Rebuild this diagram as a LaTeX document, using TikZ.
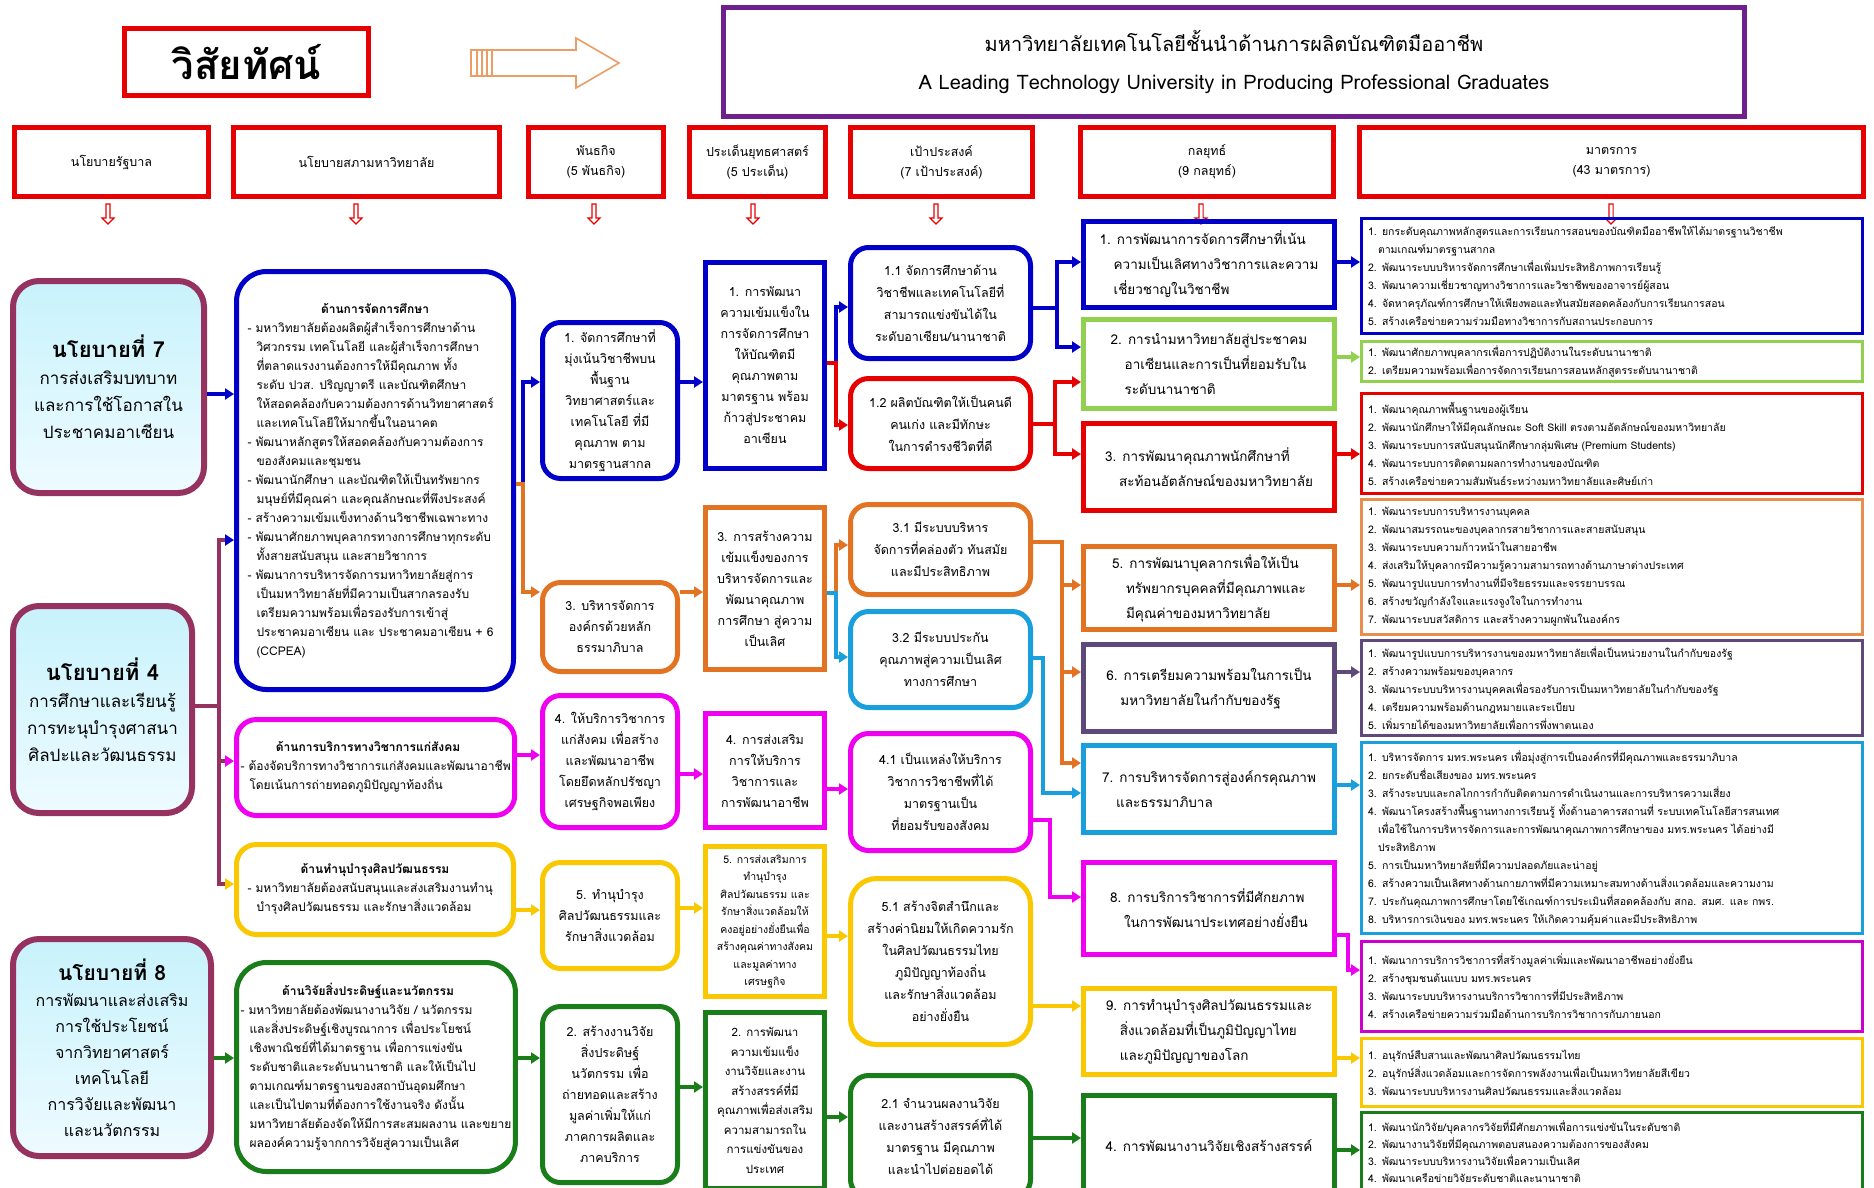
\documentclass[tikz,border=0pt]{standalone}
\usepackage{fontspec}
\setmainfont[Script=Thai]{Loma}
\usetikzlibrary{arrows.meta,shapes.arrows}
\definecolor{cBlue}{RGB}{0,0,200}
\definecolor{cRed}{RGB}{230,0,0}
\definecolor{cOrange}{RGB}{226,115,35}
\definecolor{cMag}{RGB}{240,0,240}
\definecolor{cYel}{RGB}{250,200,0}
\definecolor{cGreen}{RGB}{25,125,25}
\definecolor{cCyan}{RGB}{25,160,220}
\definecolor{cLGreen}{RGB}{146,208,80}
\definecolor{cPurp}{RGB}{95,73,122}
\definecolor{cVis}{RGB}{112,32,140}
\definecolor{cMaroon}{RGB}{150,50,95}
\definecolor{cPolTop}{RGB}{200,242,252}
\definecolor{cPolBot}{RGB}{238,251,255}
\newcommand\mybox[7]{\node[#6,minimum width=#4pt,minimum height=#5pt] (#1) at (#2,#3) {#7};}
\newcommand\hcon[4]{\coordinate (tmpy) at (0,#3); \draw[#4] (#1.east |- tmpy) -- (#2.west |- tmpy);}
\newcommand\econ[6]{\coordinate (tmpa) at (#5,#3); \coordinate (tmpb) at (#5,#4); \draw[#6] (#1.east |- tmpa) -- (tmpa) -- (tmpb) -- (#2.west |- tmpb);}
\tikzset{
 bxbase/.style={rectangle, anchor=north west, align=center, inner sep=4pt, text=black},
 hdr/.style={bxbase, draw=cRed, line width=5pt, font=\fontsize{12.5}{20}\selectfont},
 pol/.style={bxbase, draw=cMaroon, line width=6pt, rounded corners=26pt, top color=cPolTop, bottom color=cPolBot, font=\fontsize{17}{27}\selectfont},
 uni/.style={bxbase, line width=5pt, rounded corners=30pt, align=left, font=\fontsize{12}{19}\selectfont},
 mis/.style={bxbase, line width=5pt, rounded corners=18pt, font=\fontsize{12.5}{21}\selectfont},
 iss/.style={bxbase, line width=5pt, font=\fontsize{12.5}{21}\selectfont},
 goa/.style={bxbase, line width=5pt, rounded corners=18pt, font=\fontsize{12.5}{22}\selectfont},
 stra/.style={bxbase, line width=5pt, align=left, font=\fontsize{13.5}{25}\selectfont},
 mea/.style={bxbase, line width=3pt, align=left, text width=488pt, inner sep=6pt, font=\fontsize{10.5}{18}\selectfont},
 arr/.style={line width=3.5pt, -{Triangle[length=9pt,width=11pt]}},
 darr/.style={single arrow, shape border rotate=270, draw=cRed, fill=white, line width=1.2pt, minimum height=20pt, minimum width=12pt, single arrow head extend=3pt, inner sep=1pt}
}
\begin{document}
\begin{tikzpicture}[x=1pt,y=-1pt]
\useasboundingbox[fill=white] (0,0) rectangle (1874,1187);
% --- top ---
\mybox{vt}{122}{26}{244}{67}{hdr, font=\fontsize{40}{44}\selectfont\bfseries}{วิสัยทัศน์}
\draw[cOrange!70, line width=1.6pt, line join=miter] (471,50) -- (576,50) -- (576,38) -- (619,63) -- (576,88) -- (576,76) -- (471,76) -- cycle;
\draw[cOrange!70, line width=1.2pt] (477,50) -- (477,76) (482,50) -- (482,76) (487,50) -- (487,76) (492,50) -- (492,76);
\mybox{vb}{721}{5}{1021}{109}{bxbase, draw=cVis, line width=5pt, font=\fontsize{20}{38}\selectfont}{มหาวิทยาลัยเทคโนโลยีชั้นนำด้านการผลิตบัณฑิตมืออาชีพ\\A Leading Technology University in Producing Professional Graduates}
% --- headers ---
\mybox{h1}{12}{125}{194}{69}{hdr}{นโยบายรัฐบาล}
\mybox{h2}{231}{125}{266}{69}{hdr}{นโยบายสภามหาวิทยาลัย}
\mybox{h3}{526}{125}{135}{69}{hdr}{พันธกิจ\\(5 พันธกิจ)}
\mybox{h4}{687}{125}{136}{69}{hdr}{ประเด็นยุทธศาสตร์\\(5 ประเด็น)}
\mybox{h5}{848}{125}{182}{69}{hdr}{เป้าประสงค์\\(7 เป้าประสงค์)}
\mybox{h6}{1078}{125}{253}{69}{hdr}{กลยุทธ์\\(9 กลยุทธ์)}
\mybox{h7}{1357}{125}{504}{69}{hdr}{มาตรการ\\(43 มาตรการ)}
\node[darr] (da1) at (108,213) {};
\node[darr] (da2) at (356,213) {};
\node[darr] (da3) at (594,213) {};
\node[darr] (da4) at (753,213) {};
\node[darr] (da5) at (936,213) {};
\node[darr] (da6) at (1201,213) {};
\node[darr] (da7) at (1611,213) {};
% --- government policies ---
\mybox{pol7}{10}{278}{191}{212}{pol}{{\fontsize{22}{30}\selectfont\bfseries นโยบายที่ 7}\\การส่งเสริมบทบาท\\และการใช้โอกาสใน\\ประชาคมอาเซียน}
\mybox{pol4}{10}{603}{179}{207}{pol}{{\fontsize{22}{30}\selectfont\bfseries นโยบายที่ 4}\\การศึกษาและเรียนรู้\\การทะนุบำรุงศาสนา\\ศิลปะและวัฒนธรรม}
\mybox{pol8}{10}{936}{198}{217}{pol, font=\fontsize{16}{26}\selectfont}{{\fontsize{21}{28}\selectfont\bfseries นโยบายที่ 8}\\การพัฒนาและส่งเสริม\\การใช้ประโยชน์\\จากวิทยาศาสตร์\\เทคโนโลยี\\การวิจัยและพัฒนา\\และนวัตกรรม}
% --- university council policies ---
\mybox{ub}{234}{269}{277}{418}{uni, draw=cBlue}{\makebox[255pt]{\bfseries ด้านการจัดการศึกษา}\\
- มหาวิทยาลัยต้องผลิตผู้สำเร็จการศึกษาด้าน\\\hspace*{9pt}วิศวกรรม เทคโนโลยี และผู้สำเร็จการศึกษา\\\hspace*{9pt}ที่ตลาดแรงงานต้องการให้มีคุณภาพ ทั้ง\\\hspace*{9pt}ระดับ ปวส. ปริญญาตรี และบัณฑิตศึกษา\\\hspace*{9pt}ให้สอดคล้องกับความต้องการด้านวิทยาศาสตร์\\\hspace*{9pt}และเทคโนโลยีให้มากขึ้นในอนาคต\\
- พัฒนาหลักสูตรให้สอดคล้องกับความต้องการ\\\hspace*{9pt}ของสังคมและชุมชน\\
- พัฒนานักศึกษา และบัณฑิตให้เป็นทรัพยากร\\\hspace*{9pt}มนุษย์ที่มีคุณค่า และคุณลักษณะที่พึงประสงค์\\
- สร้างความเข้มแข็งทางด้านวิชาชีพเฉพาะทาง\\
- พัฒนาศักยภาพบุคลากรทางการศึกษาทุกระดับ\\\hspace*{9pt}ทั้งสายสนับสนุน และสายวิชาการ\\
- พัฒนาการบริหารจัดการมหาวิทยาลัยสู่การ\\\hspace*{9pt}เป็นมหาวิทยาลัยที่มีความเป็นสากลรองรับ\\\hspace*{9pt}เตรียมความพร้อมเพื่อรองรับการเข้าสู่\\\hspace*{9pt}ประชาคมอาเซียน และ ประชาคมอาเซียน + 6\\\hspace*{9pt}(CCPEA)}
\mybox{um}{234}{717}{277}{96}{uni, draw=cMag, rounded corners=20pt}{\makebox[255pt]{\bfseries ด้านการบริการทางวิชาการแก่สังคม}\\- ต้องจัดบริการทางวิชาการแก่สังคมและพัฒนาอาชีพ\\\hspace*{9pt}โดยเน้นการถ่ายทอดภูมิปัญญาท้องถิ่น}
\mybox{uy}{234}{842}{277}{90}{uni, draw=cYel, rounded corners=20pt}{\makebox[255pt]{\bfseries ด้านทำนุบำรุงศิลปวัฒนธรรม}\\- มหาวิทยาลัยต้องสนับสนุนและส่งเสริมงานทำนุ\\\hspace*{9pt}บำรุงศิลปวัฒนธรรม และรักษาสิ่งแวดล้อม}
\mybox{ug}{234}{960}{277}{209}{uni, draw=cGreen}{\makebox[255pt]{\bfseries ด้านวิจัยสิ่งประดิษฐ์และนวัตกรรม}\\
- มหาวิทยาลัยต้องพัฒนางานวิจัย / นวัตกรรม\\\hspace*{9pt}และสิ่งประดิษฐ์เชิงบูรณาการ เพื่อประโยชน์\\\hspace*{9pt}เชิงพาณิชย์ที่ได้มาตรฐาน เพื่อการแข่งขัน\\\hspace*{9pt}ระดับชาติและระดับนานาชาติ และให้เป็นไป\\\hspace*{9pt}ตามเกณฑ์มาตรฐานของสถาบันอุดมศึกษา\\\hspace*{9pt}และเป็นไปตามที่ต้องการใช้งานจริง ดังนั้น\\\hspace*{9pt}มหาวิทยาลัยต้องจัดให้มีการสะสมผลงาน และขยาย\\\hspace*{9pt}ผลองค์ความรู้จากการวิจัยสู่ความเป็นเลิศ}
% --- missions ---
\mybox{m1}{540}{320}{135}{156}{mis, draw=cBlue}{1. จัดการศึกษาที่\\มุ่งเน้นวิชาชีพบน\\พื้นฐาน\\วิทยาศาสตร์และ\\เทคโนโลยี ที่มี\\คุณภาพ ตาม\\มาตรฐานสากล}
\mybox{m3}{540}{580}{135}{89}{mis, draw=cOrange}{3. บริหารจัดการ\\องค์กรด้วยหลัก\\ธรรมาภิบาล}
\mybox{m4}{540}{693}{135}{132}{mis, draw=cMag}{4. ให้บริการวิชาการ\\แก่สังคม เพื่อสร้าง\\และพัฒนาอาชีพ\\โดยยึดหลักปรัชญา\\เศรษฐกิจพอเพียง}
\mybox{m5}{540}{860}{135}{106}{mis, draw=cYel}{5. ทำนุบำรุง\\ศิลปวัฒนธรรมและ\\รักษาสิ่งแวดล้อม}
\mybox{m2}{540}{1004}{135}{176}{mis, draw=cGreen}{2. สร้างงานวิจัย\\สิ่งประดิษฐ์\\นวัตกรรม เพื่อ\\ถ่ายทอดและสร้าง\\มูลค่าเพิ่มให้แก่\\ภาคการผลิตและ\\ภาคบริการ}
% --- strategic issues ---
\mybox{i1}{703}{260}{119}{206}{iss, draw=cBlue}{1. การพัฒนา\\ความเข้มแข็งใน\\การจัดการศึกษา\\ให้บัณฑิตมี\\คุณภาพตาม\\มาตรฐาน พร้อม\\ก้าวสู่ประชาคม\\อาเซียน}
\mybox{i3}{703}{505}{119}{162}{iss, draw=cOrange}{3. การสร้างความ\\เข้มแข็งของการ\\บริหารจัดการและ\\พัฒนาคุณภาพ\\การศึกษา สู่ความ\\เป็นเลิศ}
\mybox{i4}{703}{711}{119}{114}{iss, draw=cMag}{4. การส่งเสริม\\การให้บริการ\\วิชาการและ\\การพัฒนาอาชีพ}
\mybox{i5}{703}{844}{119}{150}{iss, draw=cYel, font=\fontsize{10.5}{17.5}\selectfont}{5. การส่งเสริมการ\\ทำนุบำรุง\\ศิลปวัฒนธรรม และ\\รักษาสิ่งแวดล้อมให้\\คงอยู่อย่างยั่งยืนเพื่อ\\สร้างคุณค่าทางสังคม\\และมูลค่าทาง\\เศรษฐกิจ}
\mybox{i2}{703}{1010}{119}{176}{iss, draw=cGreen, font=\fontsize{11.5}{19.5}\selectfont}{2. การพัฒนา\\ความเข้มแข็ง\\งานวิจัยและงาน\\สร้างสรรค์ที่มี\\คุณภาพเพื่อส่งเสริม\\ความสามารถใน\\การแข่งขันของ\\ประเทศ}
% --- goals ---
\mybox{g11}{848}{245}{180}{111}{goa, draw=cBlue}{1.1 จัดการศึกษาด้าน\\วิชาชีพและเทคโนโลยีที่\\สามารถแข่งขันได้ใน\\ระดับอาเซียน/นานาชาติ}
\mybox{g12}{848}{376}{180}{90}{goa, draw=cRed}{1.2 ผลิตบัณฑิตให้เป็นคนดี\\คนเก่ง และมีทักษะ\\ในการดำรงชีวิตที่ดี}
\mybox{g31}{848}{502}{180}{90}{goa, draw=cOrange}{3.1 มีระบบบริหาร\\จัดการที่คล่องตัว ทันสมัย\\และมีประสิทธิภาพ}
\mybox{g32}{848}{609}{180}{96}{goa, draw=cCyan}{3.2 มีระบบประกัน\\คุณภาพสู่ความเป็นเลิศ\\ทางการศึกษา}
\mybox{g41}{848}{731}{180}{117}{goa, draw=cMag}{4.1 เป็นแหล่งให้บริการ\\วิชาการวิชาชีพที่ได้\\มาตรฐานเป็น\\ที่ยอมรับของสังคม}
\mybox{g51}{848}{876}{180}{166}{goa, draw=cYel, rounded corners=26pt}{5.1 สร้างจิตสำนึกและ\\สร้างค่านิยมให้เกิดความรัก\\ในศิลปวัฒนธรรมไทย\\ภูมิปัญญาท้องถิ่น\\และรักษาสิ่งแวดล้อม\\อย่างยั่งยืน}
\mybox{g21}{848}{1073}{180}{122}{goa, draw=cGreen}{2.1 จำนวนผลงานวิจัย\\และงานสร้างสรรค์ที่ได้\\มาตรฐาน มีคุณภาพ\\และนำไปต่อยอดได้}
% --- strategies ---
\mybox{s1}{1081}{219}{251}{86}{stra, draw=cBlue}{1. การพัฒนาการจัดการศึกษาที่เน้น\\\hspace*{14pt}ความเป็นเลิศทางวิชาการและความ\\\hspace*{14pt}เชี่ยวชาญในวิชาชีพ}
\mybox{s2}{1081}{317}{251}{89}{stra, draw=cLGreen}{2. การนำมหาวิทยาลัยสู่ประชาคม\\\hspace*{14pt}อาเซียนและการเป็นที่ยอมรับใน\\\hspace*{14pt}ระดับนานาชาติ}
\mybox{s3}{1081}{421}{251}{87}{stra, draw=cRed}{3. การพัฒนาคุณภาพนักศึกษาที่\\\hspace*{14pt}สะท้อนอัตลักษณ์ของมหาวิทยาลัย}
\mybox{s5}{1081}{544}{251}{83}{stra, draw=cOrange}{5. การพัฒนาบุคลากรเพื่อให้เป็น\\\hspace*{14pt}ทรัพยากรบุคคลที่มีคุณภาพและ\\\hspace*{14pt}มีคุณค่าของมหาวิทยาลัย}
\mybox{s6}{1081}{642}{251}{87}{stra, draw=cPurp}{6. การเตรียมความพร้อมในการเป็น\\\hspace*{14pt}มหาวิทยาลัยในกำกับของรัฐ}
\mybox{s7}{1081}{743}{251}{87}{stra, draw=cCyan}{7. การบริหารจัดการสู่องค์กรคุณภาพ\\\hspace*{14pt}และธรรมาภิบาล}
\mybox{s8}{1081}{860}{251}{92}{stra, draw=cMag}{8. การบริการวิชาการที่มีศักยภาพ\\\hspace*{14pt}ในการพัฒนาประเทศอย่างยั่งยืน}
\mybox{s9}{1081}{986}{251}{86}{stra, draw=cYel}{9. การทำนุบำรุงศิลปวัฒนธรรมและ\\\hspace*{14pt}สิ่งแวดล้อมที่เป็นภูมิปัญญาไทย\\\hspace*{14pt}และภูมิปัญญาของโลก}
\mybox{s4}{1081}{1093}{251}{100}{stra, draw=cGreen}{4. การพัฒนางานวิจัยเชิงสร้างสรรค์}
% --- measures ---
\mybox{mb}{1360}{217}{501}{115}{mea, draw=cBlue}{1. ยกระดับคุณภาพหลักสูตรและการเรียนการสอนของบัณฑิตมืออาชีพให้ได้มาตรฐานวิชาชีพ\\\hspace*{10pt}ตามเกณฑ์มาตรฐานสากล\\2. พัฒนาระบบบริหารจัดการศึกษาเพื่อเพิ่มประสิทธิภาพการเรียนรู้\\3. พัฒนาความเชี่ยวชาญทางวิชาการและวิชาชีพของอาจารย์ผู้สอน\\4. จัดหาครุภัณฑ์การศึกษาให้เพียงพอและทันสมัยสอดคล้องกับการเรียนการสอน\\5. สร้างเครือข่ายความร่วมมือทางวิชาการกับสถานประกอบการ}
\mybox{mg}{1360}{340}{501}{40}{mea, draw=cLGreen, inner ysep=2pt}{1. พัฒนาศักยภาพบุคลากรเพื่อการปฏิบัติงานในระดับนานาชาติ\\2. เตรียมความพร้อมเพื่อการจัดการเรียนการสอนหลักสูตรระดับนานาชาติ}
\mybox{mr}{1360}{392}{501}{100}{mea, draw=cRed}{1. พัฒนาคุณภาพพื้นฐานของผู้เรียน\\2. พัฒนานักศึกษาให้มีคุณลักษณะ Soft Skill ตรงตามอัตลักษณ์ของมหาวิทยาลัย\\3. พัฒนาระบบการสนับสนุนนักศึกษากลุ่มพิเศษ (Premium Students)\\4. พัฒนาระบบการติดตามผลการทำงานของบัณฑิต\\5. สร้างเครือข่ายความสัมพันธ์ระหว่างมหาวิทยาลัยและศิษย์เก่า}
\mybox{mo}{1360}{498}{501}{135}{mea, draw=cOrange!80}{1. พัฒนาระบบการบริหารงานบุคคล\\2. พัฒนาสมรรถนะของบุคลากรสายวิชาการและสายสนับสนุน\\3. พัฒนาระบบความก้าวหน้าในสายอาชีพ\\4. ส่งเสริมให้บุคลากรมีความรู้ความสามารถทางด้านภาษาต่างประเทศ\\5. พัฒนารูปแบบการทำงานที่มีจริยธรรมและจรรยาบรรณ\\6. สร้างขวัญกำลังใจและแรงจูงใจในการทำงาน\\7. พัฒนาระบบสวัสดิการ และสร้างความผูกพันในองค์กร}
\mybox{mp}{1360}{639}{501}{92}{mea, draw=cPurp}{1. พัฒนารูปแบบการบริหารงานของมหาวิทยาลัยเพื่อเป็นหน่วยงานในกำกับของรัฐ\\2. สร้างความพร้อมของบุคลากร\\3. พัฒนาระบบบริหารงานบุคคลเพื่อรองรับการเป็นมหาวิทยาลัยในกำกับของรัฐ\\4. เตรียมความพร้อมด้านกฎหมายและระเบียบ\\5. เพิ่มรายได้ของมหาวิทยาลัยเพื่อการพึ่งพาตนเอง}
\mybox{mc}{1360}{741}{501}{191}{mea, draw=cCyan}{1. บริหารจัดการ มทร.พระนคร เพื่อมุ่งสู่การเป็นองค์กรที่มีคุณภาพและธรรมาภิบาล\\2. ยกระดับชื่อเสียงของ มทร.พระนคร\\3. สร้างระบบและกลไกการกำกับติดตามการดำเนินงานและการบริหารความเสี่ยง\\4. พัฒนาโครงสร้างพื้นฐานทางการเรียนรู้ ทั้งด้านอาคารสถานที่ ระบบเทคโนโลยีสารสนเทศ\\\hspace*{10pt}เพื่อใช้ในการบริหารจัดการและการพัฒนาคุณภาพการศึกษาของ มทร.พระนคร ได้อย่างมี\\\hspace*{10pt}ประสิทธิภาพ\\5. การเป็นมหาวิทยาลัยที่มีความปลอดภัยและน่าอยู่\\6. สร้างความเป็นเลิศทางด้านกายภาพที่มีความเหมาะสมทางด้านสิ่งแวดล้อมและความงาม\\7. ประกันคุณภาพการศึกษาโดยใช้เกณฑ์การประเมินที่สอดคล้องกับ สกอ. สมศ. และ กพร.\\8. บริหารการเงินของ มทร.พระนคร ให้เกิดความคุ้มค่าและมีประสิทธิภาพ}
\mybox{mm}{1360}{940}{501}{90}{mea, draw=cMag!85!black}{1. พัฒนาการบริการวิชาการที่สร้างมูลค่าเพิ่มและพัฒนาอาชีพอย่างยั่งยืน\\2. สร้างชุมชนต้นแบบ มทร.พระนคร\\3. พัฒนาระบบบริหารงานบริการวิชาการที่มีประสิทธิภาพ\\4. สร้างเครือข่ายความร่วมมือด้านการบริการวิชาการกับภายนอก}
\mybox{my}{1360}{1037}{501}{68}{mea, draw=cYel}{1. อนุรักษ์สืบสานและพัฒนาศิลปวัฒนธรรมไทย\\2. อนุรักษ์สิ่งแวดล้อมและการจัดการพลังงานเพื่อเป็นมหาวิทยาลัยสีเขียว\\3. พัฒนาระบบบริหารงานศิลปวัฒนธรรมและสิ่งแวดล้อม}
\mybox{mgr}{1360}{1111}{501}{78}{mea, draw=cGreen, inner ysep=2pt, font=\fontsize{10.5}{17}\selectfont}{1. พัฒนานักวิจัย/บุคลากรวิจัยที่มีศักยภาพเพื่อการแข่งขันในระดับชาติ\\2. พัฒนางานวิจัยที่มีคุณภาพตอบสนองความต้องการของสังคม\\3. พัฒนาระบบบริหารงานวิจัยเพื่อความเป็นเลิศ\\4. พัฒนาเครือข่ายวิจัยระดับชาติและนานาชาติ}
% --- connectors: policies ---
\hcon{pol7}{ub}{394}{arr, cBlue}
\econ{pol4}{ub}{706}{540}{219}{arr, cMaroon, -{Triangle[length=9pt,width=11pt,color=cBlue]}}
\econ{pol4}{um}{706}{761}{219}{arr, cMaroon, -{Triangle[length=9pt,width=11pt,color=cMag]}}
\econ{pol4}{uy}{706}{884}{219}{arr, cMaroon, -{Triangle[length=9pt,width=11pt,color=cYel]}}
\hcon{pol8}{ug}{1058}{arr, cGreen}
% univ -> missions
\econ{ub}{m1}{484}{382}{523}{arr, cBlue}
\econ{ub}{m3}{484}{592}{523}{arr, cOrange}
\hcon{um}{m4}{755}{arr, cMag}
\hcon{uy}{m5}{910}{arr, cYel}
\hcon{ug}{m2}{1058}{arr, cGreen}
% missions -> issues
\hcon{m1}{i1}{382}{arr, cBlue}
\hcon{m3}{i3}{592}{arr, cOrange}
\hcon{m4}{i4}{774}{arr, cMag}
\hcon{m5}{i5}{908}{arr, cYel}
\hcon{m2}{i2}{1087}{arr, cGreen}
% issues -> goals
\econ{i1}{g11}{363}{307}{836}{arr, cBlue}
\econ{i1}{g12}{363}{425}{836}{arr, cRed}
\econ{i3}{g31}{593}{545}{836}{arr, cOrange}
\econ{i3}{g32}{593}{657}{836}{arr, cCyan}
\hcon{i4}{g41}{789}{arr, cMag}
\hcon{i5}{g51}{936}{arr, cYel}
\hcon{i2}{g21}{1117}{arr, cGreen}
% goals -> strategies
\econ{g11}{s1}{308}{262}{1057}{arr, cBlue}
\econ{g11}{s2}{308}{347}{1057}{arr, cBlue}
\econ{g12}{s2}{424}{382}{1055}{arr, cRed}
\econ{g12}{s3}{424}{454}{1055}{arr, cRed}
\econ{g31}{s5}{542}{585}{1062}{arr, cOrange}
\econ{g31}{s6}{542}{672}{1062}{arr, cOrange}
\econ{g31}{s7}{542}{763}{1062}{arr, cOrange}
\econ{g32}{s7}{658}{793}{1043}{arr, cCyan}
\econ{g41}{s8}{820}{897}{1050}{arr, cMag}
\hcon{g51}{s9}{1006}{arr, cYel}
\hcon{g21}{s4}{1138}{arr, cGreen}
% strategies -> measures
\hcon{s1}{mb}{262}{arr, cBlue}
\hcon{s2}{mg}{357}{arr, cLGreen}
\hcon{s3}{mr}{454}{arr, cRed}
\hcon{s5}{mo}{585}{arr, cOrange}
\hcon{s6}{mp}{672}{arr, cPurp}
\hcon{s7}{mc}{785}{arr, cCyan}
\econ{s8}{mm}{935}{970}{1348}{arr, cMag}
\hcon{s9}{my}{1058}{arr, cYel}
\hcon{s4}{mgr}{1150}{arr, cGreen}
\end{tikzpicture}
\end{document}
